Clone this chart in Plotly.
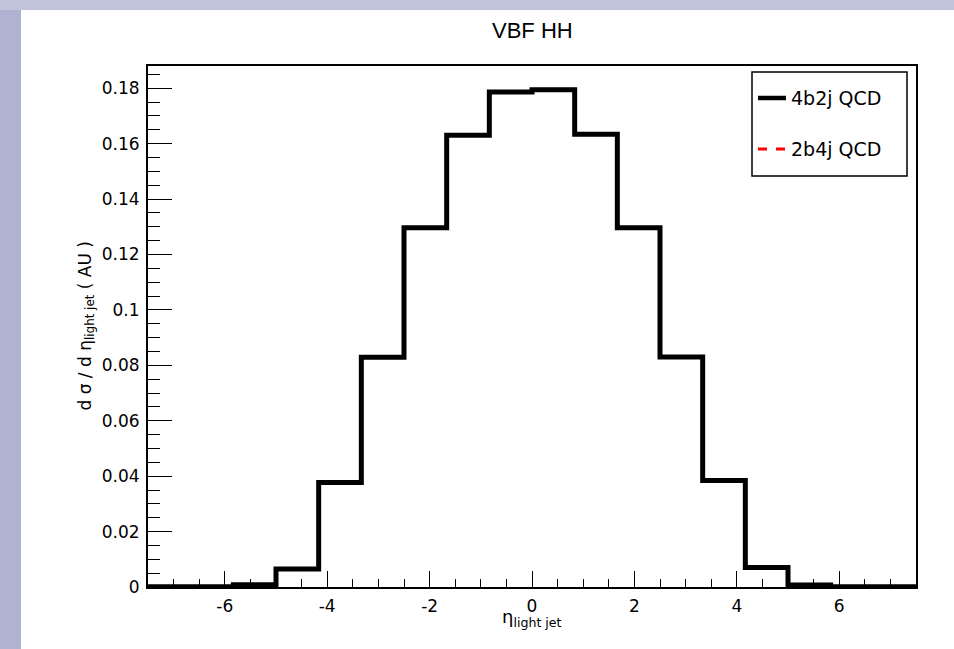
import plotly.graph_objects as go

# ---------------- data ----------------
bin_edges = [-7.5 + i * (15.0 / 18) for i in range(19)]
qcd_4b2j = [0.00005, 0.00005, 0.0008, 0.0065, 0.0377, 0.0829, 0.1296, 0.1630, 0.1786,
            0.1794, 0.1634, 0.1296, 0.0830, 0.0384, 0.0070, 0.0007, 0.00005, 0.00005]
qcd_2b4j = [0.0] * 18
x_tickvals = [-6, -4, -2, 0, 2, 4, 6]
x_ticktext = ["-6", "-4", "-2", "0", "2", "4", "6"]
y_tickvals = [0, 0.02, 0.04, 0.06, 0.08, 0.1, 0.12, 0.14, 0.16, 0.18]
y_ticktext = ["0", "0.02", "0.04", "0.06", "0.08", "0.1", "0.12", "0.14", "0.16", "0.18"]
series_names = ["4b2j QCD", "2b4j QCD"]

FONT = "Liberation Sans, Arial, Helvetica, sans-serif"
WIDE = "DejaVu Sans, Verdana, sans-serif"

# plot-area geometry in pixels (for paper-coordinate decorations)
W, H = 954, 649
L, R, T, B = 148, 916, 66, 587
pw, ph = R - L, B - T


def px(x):
    return (x - L) / pw


def py(y):
    return (B - y) / ph


fig = go.Figure()
fig.add_trace(go.Scatter(
    x=bin_edges, y=qcd_2b4j + [qcd_2b4j[-1]], mode="lines", line_shape="hv",
    line=dict(color="red", width=2.5, dash="dash"), name=series_names[1], showlegend=False,
    visible="legendonly"))
fig.add_trace(go.Scatter(
    x=bin_edges, y=qcd_4b2j + [qcd_4b2j[-1]], mode="lines", line_shape="hv",
    line=dict(color="black", width=5), name=series_names[0], showlegend=False))

shapes = [
    # slide background bands
    dict(type="rect", xref="paper", yref="paper", x0=px(0), x1=px(21), y0=py(H), y1=py(0),
         fillcolor="#afb2d0", line=dict(width=0), layer="below"),
    dict(type="rect", xref="paper", yref="paper", x0=px(0), x1=px(W), y0=py(10), y1=py(0),
         fillcolor="#c1c4da", line=dict(width=0), layer="below"),
    # legend box
    dict(type="rect", xref="paper", yref="paper", x0=px(752), x1=px(907), y0=py(176), y1=py(72),
         fillcolor="white", line=dict(color="black", width=1.5), layer="above"),
    dict(type="line", xref="paper", yref="paper", x0=px(758), x1=px(786), y0=py(98), y1=py(98),
         line=dict(color="black", width=4.5), layer="above"),
    dict(type="line", xref="paper", yref="paper", x0=px(758), x1=px(786), y0=py(149), y1=py(149),
         line=dict(color="red", width=3, dash="dash"), layer="above"),
]

annotations = [
    dict(text=series_names[0], xref="paper", yref="paper", x=px(789), y=py(98),
         xanchor="left", yanchor="middle", showarrow=False, font=dict(size=19, color="black", family=WIDE)),
    dict(text=series_names[1], xref="paper", yref="paper", x=px(789), y=py(149),
         xanchor="left", yanchor="middle", showarrow=False, font=dict(size=19, color="black", family=WIDE)),
    dict(text="d σ / d η<sub>light jet</sub> ( AU )", xref="paper", yref="paper", x=px(86), y=0.5,
         xanchor="center", yanchor="middle", textangle=-90, showarrow=False,
         font=dict(size=17, color="black", family=WIDE)),
    dict(text="η<sub>light jet</sub>", xref="paper", yref="paper", x=px(532), y=py(618),
         xanchor="center", yanchor="middle", showarrow=False,
         font=dict(size=18, color="black", family=WIDE)),
    dict(text="VBF HH", xref="paper", yref="paper", x=px(532), y=py(30),
         xanchor="center", yanchor="middle", showarrow=False,
         font=dict(size=22, color="black", family=FONT)),
]

fig.update_layout(
    width=W, height=H,
    margin=dict(l=L, r=W - R, t=T, b=H - B, pad=0),
    paper_bgcolor="white", plot_bgcolor="white",
    shapes=shapes, annotations=annotations, showlegend=False,
    font=dict(family=WIDE, color="black", size=16),
)
fig.update_xaxes(
    range=[-7.5, 7.5], showgrid=False, zeroline=False,
    showline=True, linecolor="black", linewidth=2, mirror=True,
    ticks="inside", ticklen=16, tickwidth=1, tickcolor="black",
    tickmode="array", tickvals=x_tickvals, ticktext=x_ticktext,
    tickfont=dict(size=17, color="black", family=WIDE), ticklabelstandoff=3,
    minor=dict(ticks="inside", ticklen=8, dtick=0.5, tick0=0, tickcolor="black", tickwidth=1, showgrid=False),
)
fig.update_yaxes(
    range=[0, 0.188], showgrid=False, zeroline=False,
    showline=True, linecolor="black", linewidth=2, mirror=True,
    ticks="inside", ticklen=24, tickwidth=1, tickcolor="black",
    tickmode="array", tickvals=y_tickvals, ticktext=y_ticktext,
    tickfont=dict(size=17, color="black", family=WIDE), ticklabelstandoff=3,
    minor=dict(ticks="inside", ticklen=12, dtick=0.005, tick0=0, tickcolor="black", tickwidth=1, showgrid=False),
)

fig.write_html("out.html")
